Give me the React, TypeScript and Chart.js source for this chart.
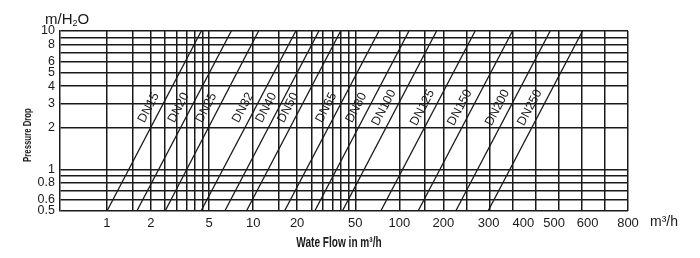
import React, { useEffect, useRef } from 'react';
import { Chart, registerables, LogarithmicScale } from 'chart.js';

Chart.register(...registerables);

// ---- data ----
const X_GRID = [1, 1.5, 2, 2.5, 3, 3.5, 4, 4.5, 5, 10, 15, 20, 25, 30, 35, 40, 45, 50, 100, 150, 200, 250, 300, 350, 400, 500, 600, 700, 800];
const X_LABELS = [1, 2, 5, 10, 20, 50, 100, 200, 300, 400, 500, 600, 800];
const Y_GRID = [0.5, 0.6, 0.7, 0.8, 0.9, 1, 2, 3, 4, 5, 6, 7, 8, 9, 10];
const Y_LABELS = [0.5, 0.6, 0.8, 1, 2, 3, 4, 5, 6, 8, 10];

const SIZES = ['DN15', 'DN20', 'DN25', 'DN32', 'DN40', 'DN50', 'DN65', 'DN80', 'DN100', 'DN125', 'DN150', 'DN200', 'DN250'];
// flow (m3/h) where each valve line meets 0.5 m and 10 m of pressure drop
const FLOW_AT_LOW = [1.0, 1.6, 2.5, 4.4, 6.4, 9, 16.4, 26.4, 40.8, 74.7, 134.5, 227, 297];
const FLOW_AT_HIGH = [4.42, 7.09, 10.9, 19.6, 28.2, 39.7, 72.6, 116.5, 180, 269, 350, 463, 603];
const DROP_LOW = 0.5;
const DROP_HIGH = 10;
const LABEL_DROP = 2.56;

// Above 200 m3/h the printed axis stops being logarithmic. Each axis id gets its
// own tail: the values where the tail bends and the width (in decades) of each step.
const GRID_TAIL = [200, 250, 300, 350, 400, 500, 600, 700, 800];
const GRID_TAIL_STEPS = [0.158, 0.158, 0.158, 0.158, 0.158, 0.158, 0.158, 0.158];
const LABEL_TAIL = [200, 300, 400, 500, 600, 800];
const LABEL_TAIL_STEPS = [0.31, 0.238, 0.21, 0.23, 0.276];
const TAILS: Record<string, { v: number[]; w: number[] }> = {
  x: { v: GRID_TAIL, w: GRID_TAIL_STEPS },
  xl: { v: LABEL_TAIL, w: LABEL_TAIL_STEPS },
};

function toUnit(v: number, tail: { v: number[]; w: number[] }): number {
  const T = tail.v;
  if (v <= T[0]) return Math.log10(v);
  let u = Math.log10(T[0]);
  for (let i = 1; i < T.length; i++) {
    if (v <= T[i] || i === T.length - 1) {
      return u + tail.w[i - 1] * ((v - T[i - 1]) / (T[i] - T[i - 1]));
    }
    u += tail.w[i - 1];
  }
  return u;
}
function fromUnit(u: number, tail: { v: number[]; w: number[] }): number {
  const T = tail.v;
  let acc = Math.log10(T[0]);
  if (u <= acc) return Math.pow(10, u);
  for (let i = 1; i < T.length; i++) {
    const w = tail.w[i - 1];
    if (u <= acc + w || i === T.length - 1) {
      return T[i - 1] + ((u - acc) / w) * (T[i] - T[i - 1]);
    }
    acc += w;
  }
  return T[T.length - 1];
}

class BrokenLogScale extends LogarithmicScale {
  static id = 'brokenLog';
  static defaults = LogarithmicScale.defaults;
  _u0: number = 0;
  _ur: number = 1;
  tail() {
    return TAILS[(this as any).id] || TAILS.x;
  }
  configure() {
    super.configure();
    this._u0 = toUnit(this.min, this.tail());
    this._ur = toUnit(this.max, this.tail()) - this._u0;
  }
  getPixelForValue(value: any) {
    if (value === undefined || value === 0) value = this.min;
    if (value === null || isNaN(value)) return NaN;
    return this.getPixelForDecimal((toUnit(value, this.tail()) - this._u0) / this._ur);
  }
  getValueForPixel(pixel: number) {
    return fromUnit(this.getDecimalForPixel(pixel) * this._ur + this._u0, this.tail());
  }
}
Chart.register(BrokenLogScale as any);

const INK = '#1a1a1a';
const SANS = "'Liberation Sans', Arial, Helvetica, sans-serif";
const LW = 1.5;

const textPlugin = {
  id: 'texts',
  afterDatasetsDraw(chart: any) {
    const ctx = chart.ctx;
    const ys = chart.scales.y;
    const yLab = ys.getPixelForValue(LABEL_DROP);
    ctx.save();
    ctx.fillStyle = INK;
    ctx.font = `12.5px ${SANS}`;
    ctx.textAlign = 'center';
    ctx.textBaseline = 'middle';
    chart.data.datasets.forEach((ds: any, i: number) => {
      const pts = chart.getDatasetMeta(i).data;
      const p0 = pts[0];
      const p1 = pts[1];
      const t = (yLab - p0.y) / (p1.y - p0.y);
      const x = p0.x + t * (p1.x - p0.x);
      const ang = Math.atan2(p1.y - p0.y, p1.x - p0.x);
      ctx.save();
      ctx.translate(x, yLab);
      ctx.rotate(ang);
      ctx.fillText(ds.label, 0, -11);
      ctx.restore();
    });
    ctx.restore();
  },
  afterDraw(chart: any) {
    const ctx = chart.ctx;
    const ca = chart.chartArea;
    ctx.save();
    ctx.fillStyle = INK;
    ctx.textBaseline = 'middle';
    // m/H2O
    ctx.textAlign = 'left';
    ctx.font = `15px ${SANS}`;
    let x = ca.left - 15;
    const y0 = ca.top - 11;
    ctx.fillText('m/H', x, y0);
    x += ctx.measureText('m/H').width;
    ctx.font = `9px ${SANS}`;
    ctx.fillText('2', x, y0 + 4);
    x += ctx.measureText('2').width;
    ctx.font = `15px ${SANS}`;
    ctx.fillText('O', x, y0);
    // m3/h unit at right
    ctx.font = `14px ${SANS}`;
    ctx.fillText('m\u00B3/h', ca.right + 22, ca.bottom + 11);
    // x title (condensed bold)
    ctx.textAlign = 'center';
    ctx.save();
    ctx.translate(ca.left + 279, ca.bottom + 32);
    ctx.scale(0.72, 1);
    ctx.font = `bold 14px ${SANS}`;
    ctx.fillText('Wate Flow in m\u00B3/h', 0, 0);
    ctx.restore();
    // y title (condensed bold, vertical)
    ctx.save();
    ctx.translate(ca.left - 32, ca.top + 104);
    ctx.rotate(-Math.PI / 2);
    ctx.scale(0.78, 1);
    ctx.font = `bold 10px ${SANS}`;
    ctx.fillText('Pressure Drop', 0, 0);
    ctx.restore();
    ctx.restore();
  },
};

export default function App() {
  const ref = useRef<HTMLCanvasElement | null>(null);
  useEffect(() => {
    document.body.style.margin = '0';
    const canvas = ref.current;
    if (!canvas) return;
    const chart = new Chart(canvas, {
      type: 'line',
      data: {
        datasets: SIZES.map((s, i) => ({
          label: s,
          data: [
            { x: FLOW_AT_LOW[i], y: DROP_LOW },
            { x: FLOW_AT_HIGH[i], y: DROP_HIGH },
          ],
          borderColor: INK,
          borderWidth: 1.3,
          pointRadius: 0,
          fill: false,
          tension: 0,
          xAxisID: 'x',
        })),
      },
      options: {
        animation: false,
        responsive: false,
        devicePixelRatio: 1,
        layout: { padding: { top: 31, right: 72, bottom: 0, left: 0 } },
        plugins: { legend: { display: false }, tooltip: { enabled: false } },
        scales: {
          x: {
            type: 'brokenLog' as any,
            position: 'bottom',
            min: 0.477,
            max: 800,
            bounds: 'data',
            afterBuildTicks: (s: any) => {
              s.ticks = X_GRID.map((v) => ({ value: v }));
            },
            afterFit: (s: any) => {
              s.height = 0;
            },
            ticks: { display: false, autoSkip: false },
            grid: { color: INK, lineWidth: LW, drawTicks: false },
            border: { display: false },
          },
          xl: {
            type: 'brokenLog' as any,
            position: 'bottom',
            min: 0.477,
            max: 800,
            bounds: 'data',
            afterBuildTicks: (s: any) => {
              s.ticks = X_LABELS.map((v) => ({ value: v }));
            },
            afterFit: (s: any) => {
              s.height = 47;
            },
            ticks: {
              autoSkip: false,
              maxRotation: 0,
              minRotation: 0,
              padding: 5,
              color: INK,
              font: { size: 13, family: SANS },
              callback: (v: any) => String(v),
            },
            grid: { display: false, drawTicks: false },
            border: { display: false },
          },
          y: {
            type: 'logarithmic',
            min: 0.5,
            max: 10,
            bounds: 'data',
            afterBuildTicks: (s: any) => {
              s.ticks = Y_GRID.map((v) => ({ value: v }));
            },
            afterFit: (s: any) => {
              s.width = 60;
            },
            ticks: {
              autoSkip: false,
              padding: 5,
              color: INK,
              font: { size: 12.5, family: SANS },
              callback: (v: any) => (Y_LABELS.includes(Number(v)) ? String(v) : ''),
            },
            grid: { color: INK, lineWidth: LW, drawTicks: false },
            border: { display: true, color: INK, width: LW },
          },
        },
      },
      plugins: [textPlugin],
    });
    return () => chart.destroy();
  }, []);
  return (
    <div style={{ width: 700, height: 258, background: '#fff' }}>
      <canvas ref={ref} width={700} height={258} style={{ display: 'block' }} />
    </div>
  );
}
